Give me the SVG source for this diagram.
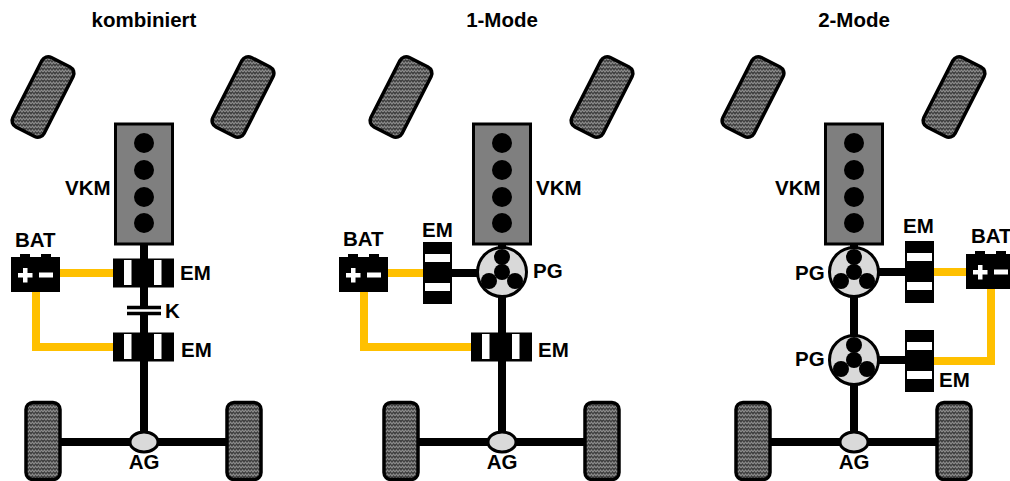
<svg xmlns="http://www.w3.org/2000/svg" width="1010" height="481" viewBox="0 0 1010 481">
<style>
text{font-family:"Liberation Sans",Arial,sans-serif;font-weight:700;font-size:20.5px;fill:#000}
.m{text-anchor:middle}
.tyre{stroke:#000;stroke-width:3.5}
.vkm{fill:#7f7f7f;stroke:#000;stroke-width:3}
.shaft{fill:none;stroke:#000;stroke-width:8}
.hv{fill:none;stroke:#ffc000;stroke-width:8}
.pg{fill:#d9d9d9;stroke:#000;stroke-width:3}
.ag{fill:#d9d9d9;stroke:#000;stroke-width:3}
.w{fill:#fff}
</style>
<defs>
<pattern id="tread" width="6" height="4" patternUnits="userSpaceOnUse">
<rect width="6" height="4" fill="#3f3f3f"/>
<path d="M0 3L1.500 1L3 3L4.500 1L6 3" fill="none" stroke="#8c8c8c" stroke-width="1.200"/>
</pattern>
<pattern id="tread-f" width="6" height="4" patternUnits="userSpaceOnUse" patternTransform="rotate(-27)">
<rect width="6" height="4" fill="#3f3f3f"/>
<path d="M0 3L1.500 1L3 3L4.500 1L6 3" fill="none" stroke="#8c8c8c" stroke-width="1.200"/>
</pattern>
<g id="fw"><rect x="-17.500" y="-39" width="35" height="78" rx="7" class="tyre" fill="url(#tread-f)" transform="rotate(27)"/></g>
<g id="rw"><rect x="-17" y="-38.500" width="34" height="77" rx="7" class="tyre" fill="url(#tread)"/></g>
<g id="engine">
<rect x="-28.500" y="0" width="57" height="120" class="vkm"/>
<circle cy="19" r="10"/><circle cy="46" r="10"/><circle cy="73" r="10"/><circle cy="99" r="10"/>
</g>
<g id="emh"><rect x="-31" y="-14.500" width="61" height="29"/><rect class="w" x="-20" y="-13" width="7.500" height="25"/><rect class="w" x="10" y="-13" width="7.500" height="25"/></g>
<g id="emv"><rect x="-14.500" y="-31" width="29" height="62"/><rect class="w" x="-12.500" y="-19" width="25" height="8"/><rect class="w" x="-12.500" y="10" width="25" height="8"/></g>
<g id="pgear">
<circle r="24.500" class="pg"/>
<circle r="8"/><circle cy="-15" r="8"/><circle cx="-13" cy="9" r="8"/><circle cx="13" cy="9" r="8"/>
</g>
<g id="batt">
<rect x="0" y="0" width="49" height="35"/><rect x="9" y="-3" width="10" height="4"/><rect x="30" y="-3" width="10" height="4"/>
<path class="w" d="M12 11h4.500v5h5v4.500h-5v5h-4.500v-5h-5v-4.500h5zM28 15.500h14v5h-14z"/>
</g>
</defs>

<g id="connectors">
<path class="shaft" d="M144 244V306M144 315V442M60 442H230"/>
<path class="hv" d="M60 273H113M36 292V347H113"/>
<path class="shaft" d="M502 244V442M418 442H588M452 273H478"/>
<path class="hv" d="M388 273H423M364 292V347H471"/>
<path class="shaft" d="M854 244V442M770 442H940M879 272H905M879 360H905"/>
<path class="hv" d="M934 272H966M934 361H991V288"/>
<path d="M127 307.500H161M127 313.500H161" fill="none" stroke="#000" stroke-width="3.500"/>
</g>

<g id="titles">
<text class="m" x="144" y="27">kombiniert</text>
<text class="m" x="502" y="27">1-Mode</text>
<text class="m" x="854" y="27">2-Mode</text>
</g>

<g id="panel-kombiniert">
<use id="k-fl" href="#fw" x="43" y="97"/><use id="k-fr" href="#fw" x="243" y="97"/>
<use id="k-rl" href="#rw" x="43" y="441"/><use id="k-rr" href="#rw" x="244" y="441"/>
<g id="k-vkm"><use href="#engine" x="144" y="124"/><text x="65" y="195">VKM</text></g>
<g id="k-bat"><use href="#batt" x="11" y="257"/><text x="15" y="247">BAT</text></g>
<g id="k-em1"><use href="#emh" x="144" y="273"/><text x="180" y="280">EM</text></g>
<g id="k-kupplung"><text x="165" y="318">K</text></g>
<g id="k-em2"><use href="#emh" x="144" y="347"/><text x="181" y="357">EM</text></g>
<g id="k-ag"><ellipse cx="144" cy="442" rx="14" ry="10" class="ag"/><text class="m" x="144" y="469">AG</text></g>
</g>

<g id="panel-1mode">
<use id="m1-fl" href="#fw" x="401" y="97"/><use id="m1-fr" href="#fw" x="602" y="97"/>
<use id="m1-rl" href="#rw" x="401" y="441"/><use id="m1-rr" href="#rw" x="602" y="441"/>
<g id="m1-vkm"><use href="#engine" x="502" y="124"/><text x="536" y="195">VKM</text></g>
<g id="m1-bat"><use href="#batt" x="339" y="257"/><text x="343" y="246">BAT</text></g>
<g id="m1-emv"><use href="#emv" x="437.500" y="273"/><text x="422" y="237">EM</text></g>
<g id="m1-pg"><use href="#pgear" x="502" y="272"/><text x="533" y="278">PG</text></g>
<g id="m1-emh"><use href="#emh" x="502" y="347"/><text x="538" y="357">EM</text></g>
<g id="m1-ag"><ellipse cx="502" cy="442" rx="14" ry="10" class="ag"/><text class="m" x="502" y="469">AG</text></g>
</g>

<g id="panel-2mode">
<use id="m2-fl" href="#fw" x="753" y="97"/><use id="m2-fr" href="#fw" x="954" y="97"/>
<use id="m2-rl" href="#rw" x="753" y="441"/><use id="m2-rr" href="#rw" x="954" y="441"/>
<g id="m2-vkm"><use href="#engine" x="854" y="124"/><text x="775" y="195">VKM</text></g>
<g id="m2-bat"><use href="#batt" x="966" y="254"/><text x="971" y="243">BAT</text></g>
<g id="m2-em1"><use href="#emv" x="919.500" y="272"/><text x="903" y="233">EM</text></g>
<g id="m2-pg1"><use href="#pgear" x="854" y="272"/><text x="795" y="280">PG</text></g>
<g id="m2-em2"><use href="#emv" x="919.500" y="361"/><text x="939" y="387">EM</text></g>
<g id="m2-pg2"><use href="#pgear" x="854" y="360"/><text x="795" y="366">PG</text></g>
<g id="m2-ag"><ellipse cx="854" cy="442" rx="14" ry="10" class="ag"/><text class="m" x="854" y="469">AG</text></g>
</g>
</svg>
